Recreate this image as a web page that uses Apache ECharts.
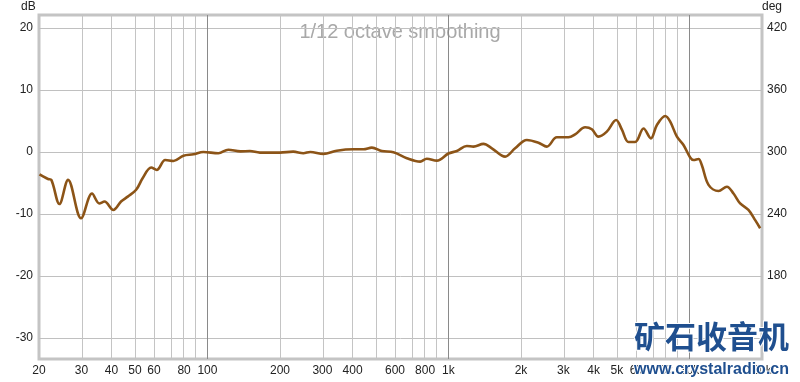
<!DOCTYPE html>
<html><head><meta charset="utf-8">
<script src="https://cdn.jsdelivr.net/npm/echarts@6/dist/echarts.min.js"></script>
<style>html,body{margin:0;padding:0;background:#fff}#c{width:800px;height:382px}</style>
</head><body><div id="c"></div>
<script>
// Frequency response data (Hz, dB)
const freqs = [20.1,20.7,21.8,22.5,24.3,26.4,29.9,33.2,35.6,37.4,40.7,43.8,46.7,50.6,53.9,58.4,61.6,66.8,72.3,79.5,87.5,96.2,111,122,137,150,165,200,227,250,267,303,344,403,444,481,529,591,672,763,813,895,1000,1084,1192,1270,1397,1514,1719,1891,2115,2363,2559,2817,3148,3356,3692,3935,4192,4541,4963,5245,5585,5954,6447,6918,7328,7937,8321,8872,9446,10070,10400,10900,11250,12000,13200,14300,15230,16230,17570,18740,19650];
const levels = [-3.6,-3.9,-4.35,-4.5,-8.4,-4.5,-10.7,-6.7,-8.3,-8.0,-9.35,-8.0,-7.2,-6.1,-4.2,-2.5,-2.9,-1.3,-1.45,-0.6,-0.37,0.0,-0.2,0.37,0.1,0.15,-0.1,-0.1,0.05,-0.2,0.0,-0.3,0.2,0.43,0.43,0.7,0.15,-0.05,-1.0,-1.55,-1.1,-1.4,-0.25,0.16,0.97,0.86,1.3,0.6,-0.75,0.6,1.94,1.5,0.86,2.37,2.37,2.85,3.98,3.66,2.47,3.28,5.16,3.6,1.6,1.6,3.8,2.2,4.35,5.8,4.9,2.47,1.13,-0.9,-1.3,-1.13,-2.1,-5.3,-6.3,-5.6,-6.7,-8.3,-9.35,-11.0,-12.3];
const xLabelFreqs = [20,30,40,50,60,80,100,200,300,400,600,800,1000,2000,3000,4000,5000,6000,8000,10000,20000];
const minorGridFreqs = [30,40,50,60,70,80,90,200,300,400,500,600,700,800,900,2000,3000,4000,5000,6000,7000,8000,9000];
const decadeGridFreqs = [100,1000,10000];
const dbTicks = [-30,-20,-10,0,10,20];
const degTicks = [180,240,300,360,420];

const L = Math.log10;
const fmtF = v => { const f = Math.round(Math.pow(10, v)); return f >= 1000 ? (f/1000) + 'k' : String(f); };
const ml = (arr, color) => ({
  silent: true, symbol: ['none','none'], animation: false, label: {show:false},
  lineStyle: {color: color, width: 1, type: 'solid'},
  data: arr
});

const chart = echarts.init(document.getElementById('c'), null, {renderer:'canvas'});
chart.setOption({
  animation: false,
  backgroundColor: '#fff',
  grid: {left: 39, right: 38, top: 15, bottom: 23, show: true, borderColor: '#c4c4c4', borderWidth: 3, backgroundColor: 'transparent'},
  xAxis: {
    type: 'value', min: L(20), max: L(20000),
    axisLine: {show:false}, axisTick: {show:false}, splitLine: {show:false},
    axisLabel: {customValues: xLabelFreqs.map(L), formatter: fmtF, color:'#222', fontSize: 12, fontFamily:'Liberation Sans, Arial', margin: 6}
  },
  yAxis: [
    {type:'value', min:-33.4, max:22.1, axisLine:{show:false}, axisTick:{show:false}, splitLine:{show:false},
     axisLabel:{customValues: dbTicks, color:'#222', fontSize:12, fontFamily:'Liberation Sans, Arial', margin: 6}},
    {type:'value', min:300-33.4*6, max:300+22.1*6, position:'right', axisLine:{show:false}, axisTick:{show:false}, splitLine:{show:false},
     axisLabel:{customValues: degTicks, color:'#222', fontSize:12, fontFamily:'Liberation Sans, Arial', margin: 5}}
  ],
  series: [
    {type:'line', data: [], z: 1, silent: true,
     markLine: ml(dbTicks.map(v=>({yAxis:v})), '#c0c0c0')},
    {type:'line', data: [], z: 1, silent: true,
     markLine: ml(minorGridFreqs.map(f=>({xAxis:L(f)})), '#c4c4c4')},
    {type:'line', data: [], z: 1, silent: true,
     markLine: ml(decadeGridFreqs.map(f=>({xAxis:L(f)})), '#8a8a8a')},
    {type:'line', z: 5, smooth: 0.35, symbol:'none',
     data: freqs.map((f,i)=>[L(f), levels[i]]),
     lineStyle:{color:'#8c5417', width: 2.6}}
  ],
  graphic: [
    {type:'text', left: 21, top: 1, style:{text:'dB', fill:'#222', font:'12px Liberation Sans, Arial'}},
    {type:'text', left: 762, top: 1, style:{text:'deg', fill:'#222', font:'12px Liberation Sans, Arial'}},
    {type:'text', left: 'center', top: 22, style:{text:'1/12 octave smoothing', fill:'#a8a8a8', font:'20px Liberation Sans, Arial'}},
    {type:'text', right: 10, top: 320, z: 100, style:{text:'矿石收音机', fill:'#1f4f8f', font:'bold 31px "Noto Sans CJK SC"', stroke:'#fff', lineWidth: 2}},
    {type:'text', right: 10, top: 361, z: 100, style:{text:'www.crystalradio.cn', fill:'#1f4f8f', font:'bold 16px Liberation Sans, Arial', stroke:'#fff', lineWidth: 2}}
  ]
});
</script></body></html>
